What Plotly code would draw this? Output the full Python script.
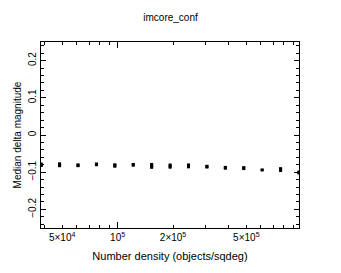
import plotly.graph_objects as go

# Data
density = [38460, 48420, 60950, 76740, 96600, 121600, 153100, 192800,
           242700, 305500, 384600, 484200, 609500, 767400, 966000]
median_dmag = [-0.080, -0.080, -0.0815, -0.079, -0.082, -0.080, -0.083, -0.0836,
               -0.083, -0.085, -0.088, -0.089, -0.094, -0.093, -0.101]
err_dmag = [0.006, 0.0066, 0.005, 0.005, 0.006, 0.005, 0.008, 0.007,
            0.0066, 0.005, 0.005, 0.0053, 0.003, 0.0066, 0.0053]

x_tickvals = [5e4, 1e5, 2e5, 5e5]
x_ticktext = ["5×10<sup>4</sup>", "10<sup>5</sup>", "2×10<sup>5</sup>", "5×10<sup>5</sup>"]
x_minor = [4e4, 6e4, 7e4, 8e4, 9e4, 3e5, 4e5, 6e5, 7e5, 8e5, 9e5]
x_decade = [1e5]
y_tickvals = [-0.2, -0.1, 0, 0.1, 0.2]
y_ticktext = ["−0.2", "−0.1", "0", "0.1", "0.2"]

FONT = "Liberation Sans, Arial, sans-serif"
xrange_log = [4.584, 5.985]

fig = go.Figure()
fig.add_trace(go.Scatter(
    x=density, y=median_dmag, mode="markers",
    marker=dict(symbol="square", size=3, color="black", line=dict(width=0)),
    error_y=dict(type="data", array=err_dmag, visible=True,
                 thickness=3, width=0, color="black"),
    showlegend=False, hoverinfo="skip"))
# empty trace to host the decade-tick overlay axis
fig.add_trace(go.Scatter(x=[], y=[], xaxis="x2", yaxis="y",
                         showlegend=False, hoverinfo="skip"))

axis_common = dict(showline=True, linecolor="black", linewidth=1,
                   mirror="ticks", ticks="inside", tickcolor="black",
                   tickwidth=1, showgrid=False, zeroline=False,
                   tickfont=dict(family=FONT, size=10, color="black"))

fig.update_layout(
    width=341, height=273,
    margin=dict(l=41, r=42, t=42, b=42),
    paper_bgcolor="white", plot_bgcolor="white",
    title=dict(text="imcore_conf", x=0.5, xanchor="center", y=1 - 17 / 273,
               yanchor="middle", font=dict(family=FONT, size=10, color="black")),
    xaxis=dict(type="log", range=xrange_log, tickmode="array",
               tickvals=x_tickvals, ticktext=x_ticktext, ticklen=3,
               minor=dict(tickmode="array", tickvals=x_minor, ticks="inside",
                          ticklen=3, tickcolor="black", showgrid=False),
               title=dict(text="Number density (objects/sqdeg)", standoff=10,
                          font=dict(family=FONT, size=11, color="black")),
               **axis_common),
    xaxis2=dict(type="log", range=xrange_log, overlaying="x", side="bottom",
                tickmode="array", tickvals=x_decade, ticklen=6,
                showticklabels=False, showline=False, mirror="ticks",
                ticks="inside", tickcolor="black", tickwidth=1,
                showgrid=False, zeroline=False),
    yaxis=dict(range=[-0.25, 0.25], tickmode="array", tickvals=y_tickvals,
               ticktext=y_ticktext, ticklen=5, tickangle=-90,
               minor=dict(dtick=0.02, ticks="inside", ticklen=3,
                          tickcolor="black", showgrid=False),
               title=dict(text="Median delta magnitude", standoff=3,
                          font=dict(family=FONT, size=10, color="black")),
               **axis_common),
)

fig.write_html("out.html")
